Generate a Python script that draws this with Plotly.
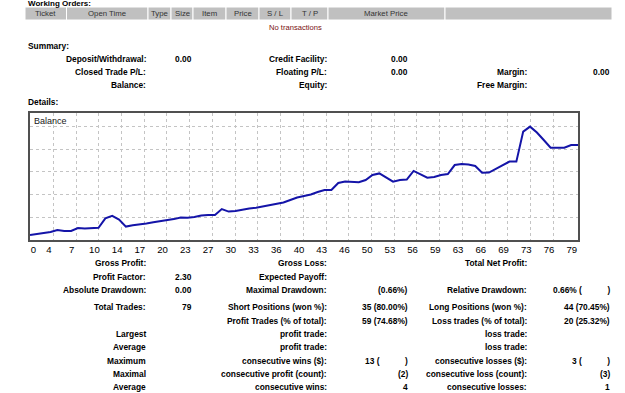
import plotly.graph_objects as go

W, H = 625, 393

# ---------------- data ----------------
trade_index = list(range(81))
balance = [10022, 10026, 10031, 10035, 10044, 10040, 10040, 10053, 10051, 10053,
           10054, 10095, 10106, 10090, 10059, 10065, 10068, 10073, 10078, 10082,
           10085, 10092, 10099, 10098, 10101, 10108, 10110, 10110, 10136, 10125,
           10128, 10134, 10139, 10142, 10147, 10153, 10158, 10165, 10176, 10187,
           10194, 10200, 10211, 10220, 10220, 10251, 10257, 10257, 10254, 10264,
           10286, 10293, 10275, 10257, 10264, 10266, 10304, 10290, 10274, 10277,
           10286, 10290, 10330, 10334, 10332, 10326, 10296, 10297, 10312, 10328,
           10345, 10345, 10477, 10499, 10473, 10440, 10406, 10406, 10406, 10418,
           10418]
x_tick_labels = ["0", "4", "7", "10", "14", "17", "20", "23", "27", "30", "33", "36",
                 "40", "43", "46", "50", "53", "56", "59", "63", "66", "69", "73", "76", "79"]

header_cols = ["Ticket", "Open Time", "Type", "Size", "Item", "Price", "S / L", "T / P",
               "Market Price", ""]

summary_rows = [
    ["Deposit/Withdrawal:", "0.00", "Credit Facility:", "0.00", "", ""],
    ["Closed Trade P/L:", "", "Floating P/L:", "0.00", "Margin:", "0.00"],
    ["Balance:", "", "Equity:", "", "Free Margin:", ""],
]

NB = "\u00a0"
gap = NB * 11
stats_rows = [
    ["Gross Profit:", "", "Gross Loss:", "", "Total Net Profit:", ""],
    ["Profit Factor:", "2.30", "Expected Payoff:", "", "", ""],
    ["Absolute Drawdown:", "0.00", "Maximal Drawdown:", "(0.66%)", "Relative Drawdown:", "0.66% (" + gap + ")"],
    ["Total Trades:", "79", "Short Positions (won %):", "35 (80.00%)", "Long Positions (won %):", "44 (70.45%)"],
    ["", "", "Profit Trades (% of total):", "59 (74.68%)", "Loss trades (% of total):", "20 (25.32%)"],
    ["Largest", "", "profit trade:", "", "loss trade:", ""],
    ["Average", "", "profit trade:", "", "loss trade:", ""],
    ["Maximum", "", "consecutive wins ($):", "13 (" + gap + ")", "consecutive losses ($):", "3 (" + gap + ")"],
    ["Maximal", "", "consecutive profit (count):", "(2)", "consecutive loss (count):", "(3)"],
    ["Average", "", "consecutive wins:", "4", "consecutive losses:", "1"],
]

# ---------------- layout constants ----------------
FONT = "Liberation Sans, Arial, sans-serif"
col_edges = [25, 66.5, 148, 171, 193, 226, 259, 291, 328, 445, 612]
head_top, head_bot = 7, 20
summary_y = [59, 72, 85]
stats_y = [263, 277, 290, 307, 321, 334, 347, 360.5, 374, 386.5]
right_edges = [146.5, 192.5, 327.5, 409, 527.5, 611]

plot_l, plot_r, plot_t, plot_b = 30, 578, 113, 240
x_min, x_max = 0, 80
y_min, y_max = 10000, 10559


def px(x):
    return x / W


def py(y):
    return 1 - y / H


annotations = []
shapes = []


def txt(x, y, s, anchor="right", bold=True, size=8.4, color="#000000"):
    if not s:
        return
    annotations.append(dict(
        x=px(x), y=py(y), xref="paper", yref="paper", text=s,
        xanchor=anchor, yanchor="middle", showarrow=False, borderpad=0,
        font=dict(family=FONT, size=size, color=color,
                  weight="bold" if bold else "normal")))


# section titles
txt(27, 3.5, "Working Orders:", anchor="left", size=8)
txt(27, 46, "Summary:", anchor="left")
txt(27, 102, "Details:", anchor="left")

# header table
for i, name in enumerate(header_cols):
    x0, x1 = col_edges[i], col_edges[i + 1]
    shapes.append(dict(type="rect", xref="paper", yref="paper",
                       x0=px(x0), x1=px(x1), y0=py(head_bot), y1=py(head_top),
                       fillcolor="#c0c0c0", line=dict(color="#ffffff", width=1)))
    txt((x0 + x1) / 2, 14, name, anchor="center", bold=False, size=7.8, color="#333333")
txt(295, 27.5, "No transactions", anchor="center", bold=False, size=7.6, color="#7a1010")

# summary
for row, y in zip(summary_rows, summary_y):
    for s, xr in zip(row, right_edges):
        txt(xr, y, s)

# statistics
for row, y in zip(stats_rows, stats_y):
    for s, xr in zip(row, right_edges):
        txt(xr, y, s)

# chart label
txt(33, 121, "Balance", anchor="left", bold=False, size=9, color="#202020")

# axis tick positions (label centres) and vertical grid positions
ppu = (plot_r - plot_l) / (x_max - x_min)
step_px = 22.73
tick_pos = [(33.3 - plot_l) / ppu] + [((26.2 + step_px * j) - plot_l) / ppu
                                       for j in range(1, len(x_tick_labels))]
grid_pos = [((53.3 + step_px * k) - plot_l) / ppu for k in range(23)]

fig = go.Figure()
fig.add_trace(go.Scatter(x=trade_index, y=balance, mode="lines",
                         line=dict(color="#1414a8", width=2), hoverinfo="skip"))

fig.update_layout(
    width=W, height=H, autosize=False,
    margin=dict(l=0, r=0, t=0, b=0),
    paper_bgcolor="#ffffff", plot_bgcolor="#ffffff",
    showlegend=False,
    annotations=annotations, shapes=shapes,
    xaxis=dict(domain=[px(plot_l), px(plot_r)], range=[x_min, x_max],
               tickmode="array", tickvals=tick_pos, ticktext=x_tick_labels,
               showgrid=False, zeroline=False, showline=True, mirror=True,
               linecolor="#505050", linewidth=1.5, ticks="",
               tickfont=dict(family=FONT, size=9.6, color="#000000"),
               minor=dict(tickmode="array", tickvals=grid_pos, showgrid=True,
                          gridcolor="#c4c4c4", griddash="dot", gridwidth=1, ticks=""),
               fixedrange=True),
    yaxis=dict(domain=[py(plot_b), py(plot_t)], range=[y_min, y_max],
               tick0=10000, dtick=100, showticklabels=False,
               showgrid=True, gridcolor="#c4c4c4", griddash="dot", gridwidth=1,
               zeroline=False, showline=True, mirror=True,
               linecolor="#505050", linewidth=1.5, ticks="", fixedrange=True),
)

fig.write_html("out.html")
